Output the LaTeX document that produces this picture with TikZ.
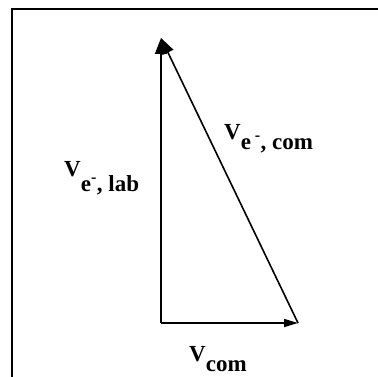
\documentclass[tikz,border=0pt]{standalone}
\usepackage{fontspec}
\setmainfont{Liberation Serif}
\usetikzlibrary{arrows.meta}
\tikzset{
  vec/.style={line width=1.6pt},
  lbl/.style={font=\fontsize{23}{23}\selectfont\bfseries, inner sep=0pt, anchor=base west},
}
\begin{document}
\begin{tikzpicture}[x=1pt,y=-1pt]
\useasboundingbox (0,0) rectangle (378,377);
\draw[line width=2pt] (12,377) -- (12,9) -- (378,9);
\coordinate (O) at (161,323);
\coordinate (top) at (161,38);
\coordinate (right) at (298,323);
\draw[vec,-{Triangle[length=16pt,width=12pt]}] (O) -- (top);
\draw[vec,-{Triangle[length=16pt,width=12pt]}] (right) -- (top);
\draw[vec,-{Triangle[length=14pt,width=8pt]}] (O) -- (right);
\node[lbl] (vlab) at (64,177) {V\raisebox{-15pt}{e\textsuperscript{-}, lab}};
\node[lbl] (vecom) at (224,140) {V\raisebox{-10pt}{e\,\textsuperscript{-}, com}};
\node[lbl] (vcom) at (189,361) {V\raisebox{-10pt}{com}};
\end{tikzpicture}
\end{document}
